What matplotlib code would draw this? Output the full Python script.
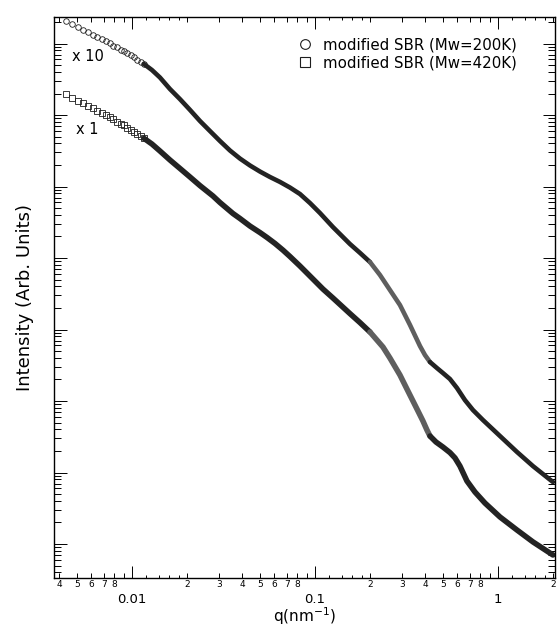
import numpy as np
import matplotlib
matplotlib.use("Agg")
import matplotlib.pyplot as plt
from matplotlib.lines import Line2D
from matplotlib.ticker import LogLocator, FixedLocator, FuncFormatter, NullLocator

# low-q points where single markers are still visible (same q grid for both samples)
q_low = [0.00434, 0.00472, 0.00507, 0.00542, 0.00577, 0.00612, 0.00646, 0.00683,
         0.00718, 0.00755, 0.00790, 0.00831, 0.00868, 0.00904, 0.00943, 0.00984,
         0.01025, 0.01069, 0.01116, 0.01163]
i_low_200k = [2.08e7, 1.87e7, 1.69e7, 1.55e7, 1.44e7, 1.33e7, 1.22e7, 1.15e7,
              1.07e7, 1.01e7, 9.32e6, 8.85e6, 8.19e6, 7.78e6, 7.30e6, 6.84e6,
              6.41e6, 5.93e6, 5.56e6, 5.16e6]
i_low_420k = [1.95e6, 1.71e6, 1.57e6, 1.46e6, 1.34e6, 1.24e6, 1.14e6, 1.06e6,
              9.90e5, 9.29e5, 8.71e5, 8.05e5, 7.55e5, 7.18e5, 6.64e5, 6.17e5,
              5.78e5, 5.42e5, 5.08e5, 4.72e5]

# dense part of the curves (markers overlap into a band)
q_band_200k = [0.01163, 0.01286, 0.01422, 0.01613, 0.01829, 0.02075, 0.02353,
               0.02669, 0.03027, 0.03433, 0.03893, 0.04415, 0.05007, 0.05676,
               0.06437, 0.07301, 0.08279, 0.09390, 0.1065, 0.1254, 0.1553,
               0.1762, 0.1998, 0.2266, 0.2569, 0.2914, 0.3305, 0.3748, 0.3991,
               0.4251, 0.4642, 0.5007, 0.5466, 0.5972, 0.6601, 0.7301, 0.8279,
               1.0255, 1.2700, 1.5533, 1.9978]
i_band_200k = [5.17e6, 4.26e6, 3.35e6, 2.31e6, 1.67e6, 1.18e6, 8.25e5,
               5.97e5, 4.33e5, 3.19e5, 2.46e5, 1.97e5, 1.62e5, 1.36e5,
               1.16e5, 9.68e4, 7.86e4, 5.88e4, 4.26e4, 2.71e4, 1.57e4,
               1.18e4, 8.79e3, 5.79e3, 3.57e3, 2.20e3, 1.16e3, 588, 440,
               351, 289, 246, 203, 152, 103, 74.8, 54.2,
               32.4, 19.4, 12.3, 7.36]

q_band_420k = [0.01163, 0.01286, 0.01422, 0.01613, 0.01829, 0.02075, 0.02353,
               0.02771, 0.03027, 0.03565, 0.03893, 0.04415, 0.05007, 0.05466,
               0.06044, 0.06684, 0.07301, 0.08279, 0.09390, 0.1106, 0.1254,
               0.1553, 0.1762, 0.1998, 0.2353, 0.2569, 0.2914, 0.3182, 0.3432,
               0.3655, 0.3892, 0.4093, 0.4251, 0.4585, 0.5007, 0.5466, 0.5823,
               0.6200, 0.6769, 0.7487, 0.8490, 1.0255, 1.2700, 1.5533, 1.9978]
i_band_420k = [4.72e5, 3.93e5, 3.14e5, 2.35e5, 1.79e5, 1.36e5, 1.03e5,
               7.37e4, 5.97e4, 4.19e4, 3.57e4, 2.80e4, 2.27e4, 1.94e4,
               1.60e4, 1.29e4, 1.05e4, 7.73e3, 5.60e3, 3.68e3, 2.76e3,
               1.67e3, 1.25e3, 923, 569, 399, 231, 147, 100,
               72.5, 52.5, 39.3, 32.4, 26.7, 22.7, 19.0, 16.0,
               12.3, 7.61, 5.34, 3.74, 2.39, 1.57, 1.07, 0.702]

labels = ["modified SBR (Mw=200K)", "modified SBR (Mw=420K)"]
minor_labelled = [2, 3, 4, 5, 6, 7, 8]
fine_subs = [1.2, 1.4, 1.6, 1.8]


def draw_series(ax, i_low, q_band, i_band, marker, ms, lw):
    ax.plot(q_low, i_low, ls="none", marker=marker, ms=ms, mfc="none",
            mec="#1e1e1e", mew=0.6)
    q_band = np.asarray(q_band)
    i_band = np.asarray(i_band)
    segments = [
        (q_band < 0.21, "#232323"),
        ((q_band > 0.19) & (q_band < 0.44), "#5e5e5e"),
        (q_band > 0.41, "#232323"),
    ]
    for mask, color in segments:
        ax.plot(q_band[mask], i_band[mask], color=color, lw=lw,
                solid_capstyle="round", solid_joinstyle="round")


fig = plt.figure(figsize=(5.58, 6.35), dpi=100)
ax = fig.add_axes([54 / 558, 1 - 577.5 / 635, 501 / 558, 560.5 / 635])

draw_series(ax, i_low_200k, q_band_200k, i_band_200k, "o", 4.0, 3.3)
draw_series(ax, i_low_420k, q_band_420k, i_band_420k, "s", 4.0, 4.0)

ax.set_xscale("log")
ax.set_yscale("log")
ax.set_xlim(0.00375, 2.05)
ax.set_ylim(0.34, 2.35e7)

# extra short ticks at 1.2, 1.4, 1.6, 1.8 of each decade
ax_fine = ax.twiny()
ax_fine.set_xscale("log")
ax_fine.set_xlim(ax.get_xlim())
fine_pos = [s * 10.0 ** e for e in (-3, -2, -1, 0) for s in fine_subs]
ax_fine.xaxis.set_major_locator(FixedLocator(fine_pos))
ax_fine.xaxis.set_minor_locator(NullLocator())
ax_fine.tick_params(axis="x", which="major", direction="in", length=2.2,
                    width=0.7, top=True, bottom=True, labeltop=False,
                    labelbottom=False)
for sp in ax_fine.spines.values():
    sp.set_visible(False)

ax.xaxis.set_major_locator(LogLocator(base=10, numticks=10))
ax.xaxis.set_minor_locator(LogLocator(base=10, subs=range(2, 10), numticks=20))


def major_fmt(v, pos):
    return f"{v:g}"


def minor_fmt(v, pos):
    m = int(round(v / 10 ** np.floor(np.log10(v) + 1e-9)))
    return str(m) if m in minor_labelled else ""


ax.xaxis.set_major_formatter(FuncFormatter(major_fmt))
ax.xaxis.set_minor_formatter(FuncFormatter(minor_fmt))
ax.yaxis.set_major_locator(LogLocator(base=10, numticks=12))
ax.yaxis.set_minor_locator(LogLocator(base=10, subs=range(2, 10), numticks=30))
ax.yaxis.set_major_formatter(plt.NullFormatter())
ax.yaxis.set_minor_formatter(plt.NullFormatter())

ax.tick_params(axis="both", which="both", direction="in", top=True,
               right=True, width=0.7)
ax.tick_params(axis="x", which="major", length=8.6, labelsize=9.5, pad=11)
ax.tick_params(axis="x", which="minor", length=3.6, labelsize=6.5, pad=2)
ax.tick_params(axis="y", which="major", length=9.0)
ax.tick_params(axis="y", which="minor", length=5.0)
for sp in ax.spines.values():
    sp.set_linewidth(1.0)

ax.set_xlabel("q(nm$^{-1}$)", fontsize=11, labelpad=0)
ax.set_ylabel("Intensity (Arb. Units)", fontsize=13, labelpad=11)

ax.text(0.036, 0.929, "x 10", transform=ax.transAxes, fontsize=10.5,
        va="center", ha="left")
ax.text(0.044, 0.80, "x 1", transform=ax.transAxes, fontsize=10.5,
        va="center", ha="left")

handles = [
    Line2D([], [], ls="none", marker="o", ms=7, mfc="none", mec="#1e1e1e", mew=0.8),
    Line2D([], [], ls="none", marker="s", ms=6.5, mfc="none", mec="#1e1e1e", mew=0.8),
]
ax.legend(handles, labels, loc="upper left", bbox_to_anchor=(0.465, 0.982),
          frameon=False, fontsize=10.8, handlelength=1.0, handletextpad=0.7,
          labelspacing=0.2, borderaxespad=0.3)

fig.savefig("out.png", dpi=100)
